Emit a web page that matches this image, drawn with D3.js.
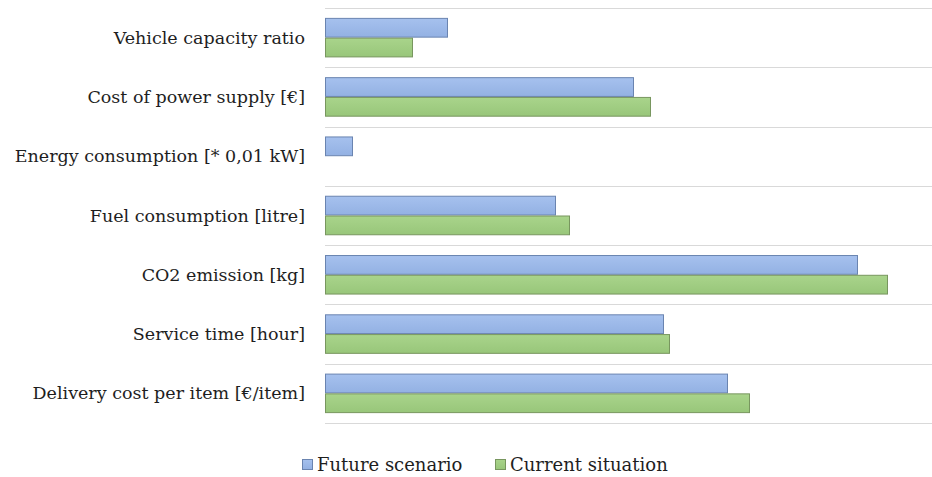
<!DOCTYPE html>
<html>
<head>
<meta charset="utf-8">
<script src="https://cdn.jsdelivr.net/npm/d3@7"></script>
<style>
  html, body { margin: 0; padding: 0; background: #fff; }
  svg { display: block; }
  text { font-family: "DejaVu Serif", "Liberation Serif", serif; fill: #1e1e1e; }
</style>
</head>
<body>
<svg id="chart" width="932" height="477"></svg>
<script>
// Indicators compared between the two scenarios (top to bottom)
const categories = [
  "Vehicle capacity ratio",
  "Cost of power supply [€]",
  "Energy consumption [* 0,01 kW]",
  "Fuel consumption [litre]",
  "CO2 emission [kg]",
  "Service time [hour]",
  "Delivery cost per item [€/item]"
];
const seriesNames = ["Future scenario", "Current situation"];
const futureScenario   = [122, 308, 27, 230, 532, 338, 402];
const currentSituation = [87, 325, 0, 244, 562, 344, 424];

const svg = d3.select("#chart");
const W = 932, H = 477;
const margin = { top: 8, right: 0, bottom: 54, left: 325 };
const plotW = W - margin.left - margin.right;
const plotH = H - margin.top - margin.bottom;

const g = svg.append("g").attr("transform", `translate(${margin.left},${margin.top})`);

const x = d3.scaleLinear().domain([0, 607]).range([0, plotW]);
const y = d3.scaleBand().domain(categories).range([0, plotH]).paddingInner(0).paddingOuter(0);
const inner = d3.scaleBand().domain(seriesNames).range([0, y.bandwidth()]).paddingOuter(0.5).paddingInner(0);

// Horizontal gridlines at category boundaries
const bounds = categories.map(c => y(c)).concat([plotH]);
g.selectAll("line.grid").data(bounds).join("line")
  .attr("class", "grid")
  .attr("x1", 0).attr("x2", plotW)
  .attr("y1", d => Math.round(d) + 0.5).attr("y2", d => Math.round(d) + 0.5)
  .attr("stroke", "#d9d9d9").attr("stroke-width", 1);

// Gradient fills for the bars
const defs = svg.append("defs");
const palette = {
  "Future scenario":   { top: "#a6c1ee", bottom: "#93b1e3", stroke: "#6a84b0" },
  "Current situation": { top: "#a9d48b", bottom: "#98c67a", stroke: "#78965f" }
};
seriesNames.forEach((s, i) => {
  const lg = defs.append("linearGradient").attr("id", "grad" + i)
    .attr("x1", 0).attr("y1", 0).attr("x2", 0).attr("y2", 1);
  lg.append("stop").attr("offset", "0%").attr("stop-color", palette[s].top);
  lg.append("stop").attr("offset", "100%").attr("stop-color", palette[s].bottom);
});

const rows = categories.map((c, i) => ({
  cat: c,
  vals: [
    { s: seriesNames[0], v: futureScenario[i], k: 0 },
    { s: seriesNames[1], v: currentSituation[i], k: 1 }
  ]
}));

const grp = g.selectAll("g.row").data(rows).join("g")
  .attr("class", "row")
  .attr("transform", d => `translate(0,${y(d.cat)})`);

grp.selectAll("rect").data(d => d.vals.filter(v => v.v > 0)).join("rect")
  .attr("x", 0.5)
  .attr("y", d => inner(d.s) + 0.5)
  .attr("width", d => x(d.v))
  .attr("height", inner.bandwidth() - 1)
  .attr("fill", d => `url(#grad${d.k})`)
  .attr("stroke", d => palette[d.s].stroke)
  .attr("stroke-width", 1);

// Category labels
g.selectAll("text.cat").data(categories).join("text")
  .attr("class", "cat")
  .attr("x", -20)
  .attr("y", d => y(d) + y.bandwidth() / 2)
  .attr("dy", "0.35em")
  .attr("text-anchor", "end")
  .attr("font-size", 17.5)
  .text(d => d);

// Legend
const legend = svg.append("g").attr("transform", "translate(302,465)");
const legendX = [0, 193];
seriesNames.forEach((s, i) => {
  const it = legend.append("g").attr("transform", `translate(${legendX[i]},0)`);
  it.append("rect").attr("x", 0.5).attr("y", -5.5).attr("width", 10).attr("height", 10)
    .attr("fill", `url(#grad${i})`).attr("stroke", palette[s].stroke);
  it.append("text").attr("x", 15).attr("y", 0).attr("dy", "0.35em")
    .attr("font-size", 18).text(s);
});
</script>
</body>
</html>
